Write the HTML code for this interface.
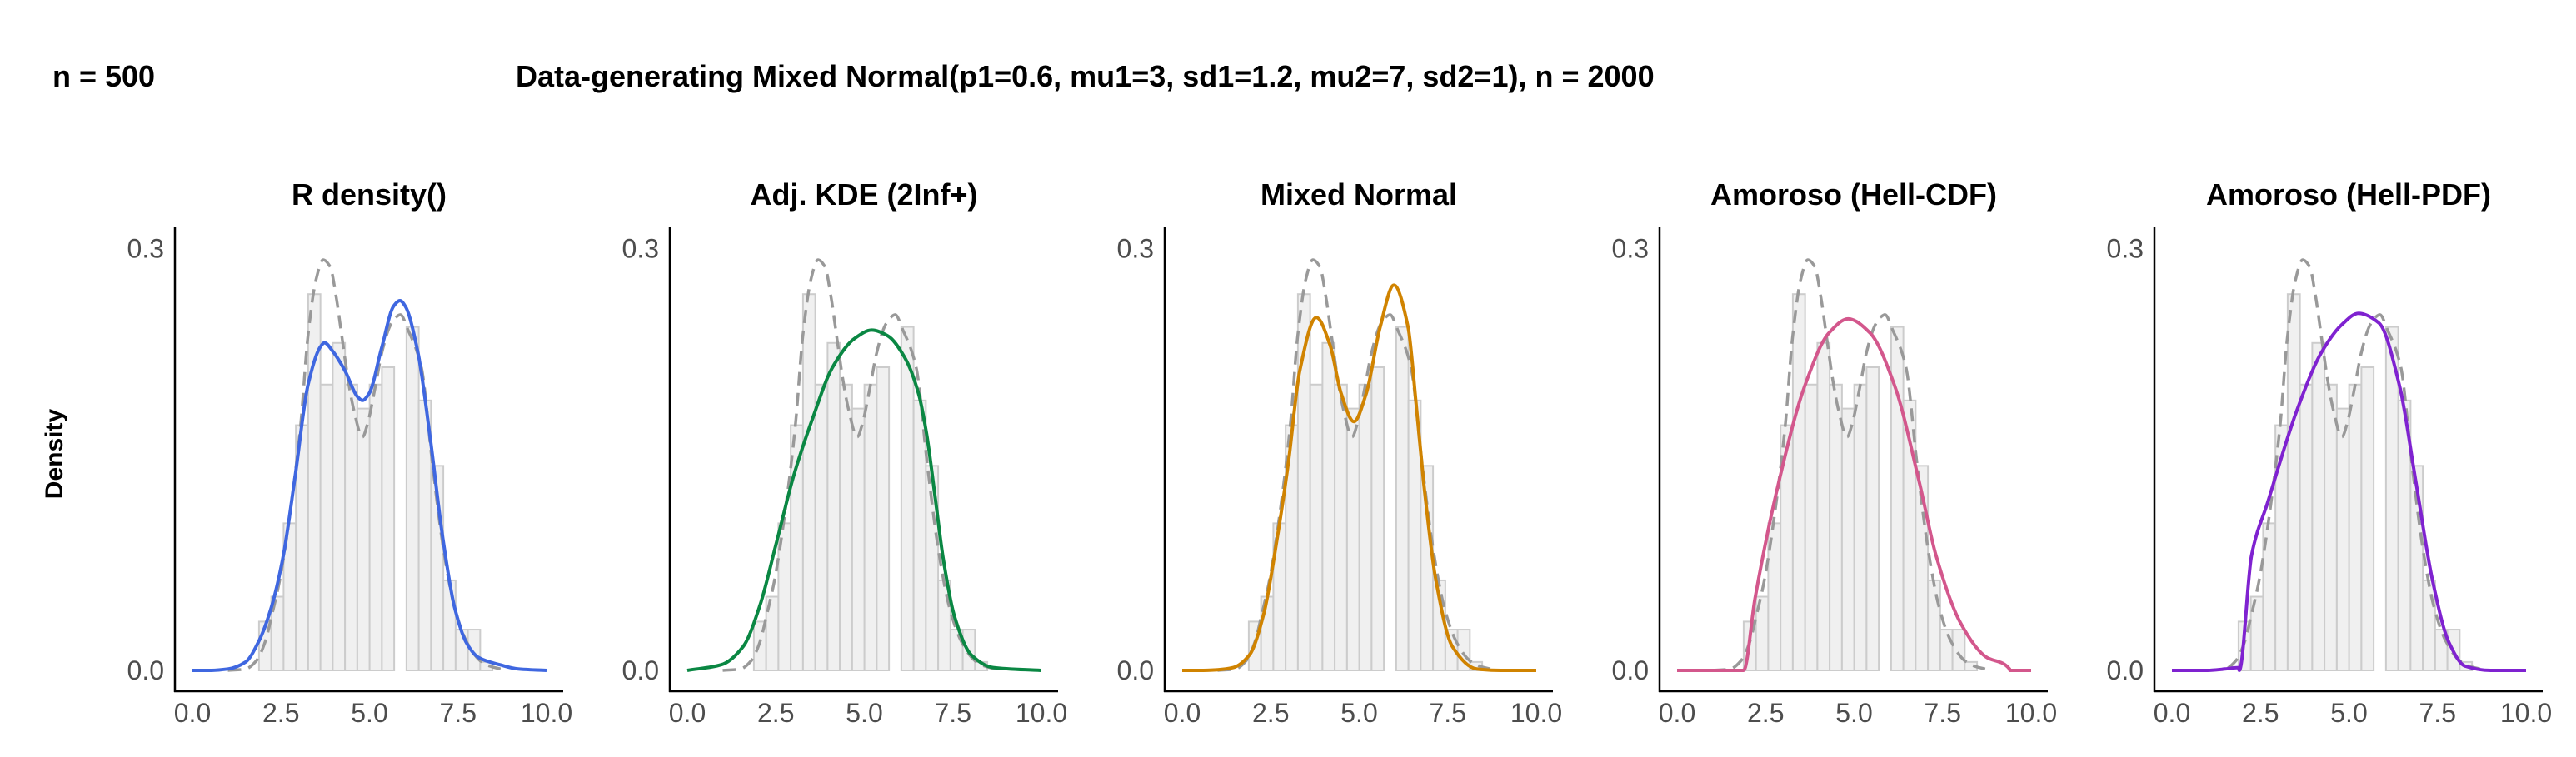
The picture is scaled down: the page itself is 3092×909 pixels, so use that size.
<!DOCTYPE html>
<html><head><meta charset="utf-8">
<style>
html,body{margin:0;padding:0;background:#fff;}
svg{display:block;font-family:"Liberation Sans",Arial,sans-serif;}
</style></head>
<body>
<svg id="chart" width="3092" height="909" viewBox="0 0 3092 909" xmlns="http://www.w3.org/2000/svg">
<text x="63" y="104" font-size="36" font-weight="bold">n = 500</text>
<text x="619" y="104" font-size="36" font-weight="bold">Data-generating Mixed Normal(p1=0.6, mu1=3, sd1=1.2, mu2=7, sd2=1), n = 2000</text>
<text transform="translate(75,545) rotate(-90)" text-anchor="middle" font-size="30" font-weight="bold">Density</text>
</svg>
<script>
// histogram (shared)
const binStart = 1.88;
const binWidth = 0.347;
const binHeights = [0.0347,0.0524,0.1046,0.1744,0.2676,0.2033,0.2329,0.2033,0.1862,0.2033,0.2156,0,0.2443,0.192,0.1455,0.064,0.029,0.029,0.006];
// reference (dashed) density
const refX = [1.0,1.5,1.81,2.05,2.24,2.47,2.78,3.06,3.26,3.5,3.69,3.89,4.05,4.2,4.4,4.55,4.8,4.95,5.15,5.34,5.58,5.74,5.87,6.09,6.46,6.78,7.09,7.4,7.73,8.12,8.4,8.7];
const refY = [0,0.001,0.007,0.02,0.039,0.065,0.116,0.176,0.237,0.279,0.292,0.287,0.267,0.241,0.206,0.186,0.166,0.176,0.2,0.225,0.245,0.251,0.253,0.242,0.216,0.146,0.086,0.045,0.021,0.007,0.003,0.001];
// panel titles and colors
const titles = ["R density()","Adj. KDE (2Inf+)","Mixed Normal","Amoroso (Hell-CDF)","Amoroso (Hell-PDF)"];
const colors = ["#3f67e0","#0a8743","#d08300","#d3578c","#7f22d0"];
// fitted curves
const fitX0 = [0,0.5,1.0,1.5,1.88,2.23,2.57,2.91,3.26,3.61,3.73,3.96,4.31,4.65,4.8,4.99,5.34,5.68,5.86,6.01,6.36,6.71,7.06,7.4,7.75,8.09,8.68,9.2,10];
const fitY0 = [0,0,0.001,0.006,0.021,0.045,0.082,0.14,0.2025,0.23,0.233,0.227,0.213,0.195,0.192,0.197,0.229,0.259,0.263,0.259,0.227,0.166,0.096,0.045,0.019,0.009,0.004,0.001,0];
const fitX1 = [0,0.96,1.58,2.05,2.52,3.0,3.55,4.09,4.72,5.21,5.66,6.13,6.53,6.76,7.0,7.23,7.55,8.02,8.64,9.98];
const fitY1 = [0,0.004,0.017,0.046,0.091,0.138,0.180,0.215,0.236,0.242,0.238,0.223,0.197,0.168,0.123,0.079,0.038,0.011,0.002,0];
const fitX2 = [0,0.5,1.0,1.44,1.9,2.3,2.69,3.0,3.32,3.79,4.18,4.49,4.85,5.2,5.59,5.98,6.38,6.61,6.82,7.16,7.63,8.32,9,10];
const fitY2 = [0,0,0.0005,0.002,0.011,0.04,0.095,0.148,0.213,0.251,0.231,0.197,0.177,0.197,0.244,0.274,0.244,0.189,0.134,0.065,0.017,0.001,0,0];
const fitX3 = [0,1.0,1.87,1.88,2.2,2.9,3.6,4.29,4.83,5.45,6.15,6.84,7.31,8.0,8.7,9.39,9.4,10];
const fitY3 = [0,0,0,0.0,0.051,0.137,0.202,0.24,0.25,0.24,0.202,0.134,0.082,0.034,0.010,0.001,0,0];
const fitX4 = [0,1.0,1.5,1.88,1.9,2.25,2.71,3.53,4.22,4.8,5.27,5.85,6.43,6.89,7.35,7.82,8.28,9,10];
const fitY4 = [0,0,0.001,0.002,0.0,0.082,0.12,0.185,0.226,0.246,0.254,0.247,0.202,0.134,0.065,0.020,0.003,0,0];
const fitXs = [fitX0,fitX1,fitX2,fitX3,fitX4];
const fitYs = [fitY0,fitY1,fitY2,fitY3,fitY4];
const xTicks = [0,2.5,5,7.5,10];
const xTickLabels = ["0.0","2.5","5.0","7.5","10.0"];
const yTicks = [0,0.3];
const yTickLabels = ["0.0","0.3"];

const NS = "http://www.w3.org/2000/svg";
const svg = document.getElementById("chart");
function mk(tag, attrs, parent){ const e=document.createElementNS(NS,tag); for(const k in attrs) e.setAttribute(k,attrs[k]); (parent||svg).appendChild(e); return e; }

// monotone cubic (Fritsch-Carlson) path in pixel space
function smoothPath(px, py){
  const n = px.length;
  if(n<2) return "";
  const dx=[], m=[];
  for(let i=0;i<n-1;i++){ dx.push(px[i+1]-px[i]); m.push(dx[i]===0?0:(py[i+1]-py[i])/dx[i]); }
  const t = new Array(n);
  t[0]=m[0]; t[n-1]=m[n-2];
  for(let i=1;i<n-1;i++){
    if(m[i-1]*m[i]<=0) t[i]=0;
    else { const w1=2*dx[i]+dx[i-1], w2=dx[i]+2*dx[i-1]; t[i]=(w1+w2)/(w1/m[i-1]+w2/m[i]); }
  }
  let d = "M"+px[0].toFixed(1)+","+py[0].toFixed(1);
  for(let i=0;i<n-1;i++){
    const h=dx[i]/3;
    d += "C"+(px[i]+h).toFixed(1)+","+(py[i]+t[i]*h).toFixed(1)+" "+(px[i+1]-h).toFixed(1)+","+(py[i+1]-t[i+1]*h).toFixed(1)+" "+px[i+1].toFixed(1)+","+py[i+1].toFixed(1);
  }
  return d;
}

for(let p=0;p<5;p++){
  const axX = 210 + 594*p;
  const xs = v => axX + 21 + v*42.5;
  const ys = v => 805 - v/0.3*506.5;
  const g = mk("g",{});
  
  
  const t = mk("text",{x:axX+233,y:246,"text-anchor":"middle","font-size":36,"font-weight":"bold"},g);
  t.textContent = titles[p];
  
  
  for(let i=0;i<binHeights.length;i++){
    if(binHeights[i]<=0) continue;
    const x0 = xs(binStart + i*binWidth), x1 = xs(binStart+(i+1)*binWidth);
    const r = mk("rect",{x:x0,y:ys(binHeights[i]),width:x1-x0,height:ys(0)-ys(binHeights[i]),fill:"#f0f0f0",stroke:"#cccccc","stroke-width":2},g);
    
    
  }
  let d = smoothPath(refX.map(xs), refY.map(ys));
  const rp = mk("path",{d:d,fill:"none",stroke:"#999999","stroke-width":3.5,"stroke-dasharray":"16,9"},g);
  
  
  d = smoothPath(fitXs[p].map(xs), fitYs[p].map(ys));
  const fp = mk("path",{d:d,fill:"none",stroke:colors[p],"stroke-width":4,"stroke-linejoin":"round"},g);
  
  
  const ya = mk("line",{x1:axX,y1:272,x2:axX,y2:831,stroke:"#000","stroke-width":2.5},g);
  
  
  const xa = mk("line",{x1:axX-1,y1:830,x2:axX+466,y2:830,stroke:"#000","stroke-width":2.5},g);
  
  
  xTicks.forEach((v,i)=>{
    const l = mk("text",{x:xs(v),y:867,"text-anchor":"middle","font-size":32,fill:"#4d4d4d"},g);
    l.textContent = xTickLabels[i];
    
    
  });
  yTicks.forEach((v,i)=>{
    const l = mk("text",{x:axX-13,y:ys(v)+11,"text-anchor":"end","font-size":32,fill:"#4d4d4d"},g);
    l.textContent = yTickLabels[i];
    
    
  });
}
</script>
</body></html>
